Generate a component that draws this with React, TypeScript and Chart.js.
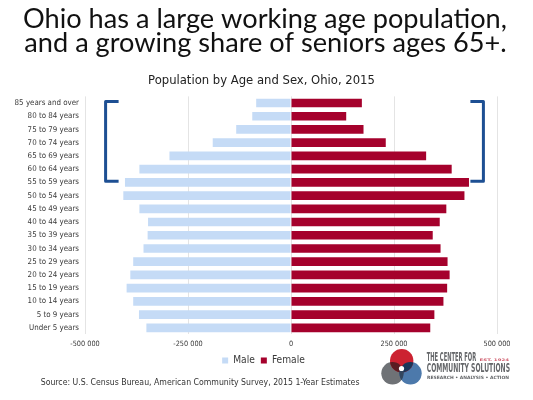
import React, { useEffect, useRef } from "react";
import { Chart, registerables } from "chart.js";

Chart.register(...registerables);

const ageGroups = [
  "85 years and over",
  "80 to 84 years",
  "75 to 79 years",
  "70 to 74 years",
  "65 to 69 years",
  "60 to 64 years",
  "55 to 59 years",
  "50 to 54 years",
  "45 to 49 years",
  "40 to 44 years",
  "35 to 39 years",
  "30 to 34 years",
  "25 to 29 years",
  "20 to 24 years",
  "15 to 19 years",
  "10 to 14 years",
  "5 to 9 years",
  "Under 5 years",
];

const maleValues = [
  -84500, -94000, -133000, -190000, -295000, -368000, -403000, -407000, -368000,
  -347000, -348000, -358000, -383000, -390000, -399000, -383000, -369000, -351000,
];

const femaleValues = [
  172000, 134000, 176000, 230000, 328000, 390000, 432000, 421000, 377000,
  361000, 344000, 363000, 380000, 385000, 379000, 370000, 348000, 338000,
];

const seriesNames = ["Male", "Female"];
const axisMin = -500000;
const axisMax = 500000;
const axisStep = 250000;

const titleLines = [
  "Ohio has a large working age population,",
  "and a growing share of seniors ages 65+.",
];
const subtitleText = "Population by Age and Sex, Ohio, 2015";
const sourceText =
  "Source: U.S. Census Bureau, American Community Survey, 2015 1-Year Estimates";
const logoLines = ["THE CENTER FOR", "COMMUNITY SOLUTIONS", "RESEARCH \u2022 ANALYSIS \u2022 ACTION", "EST. 1924"];

// bracket spans: first and last age group index of the highlighted block
const bracketFrom = 0;
const bracketTo = 6;

const MALE_COLOR = "#c5dbf6";
const FEMALE_COLOR = "#a5012c";
const BRACKET_COLOR = "#1d4f93";
const TEXT_COLOR = "#3a3a3a";
const TITLE_FONT = "Lato";
const SMALL_FONT = "'DejaVu Sans Condensed', 'DejaVu Sans'";

function fmt(v: number): string {
  const s = Math.abs(v)
    .toString()
    .replace(/\B(?=(\d{3})+(?!\d))/g, " ");
  return (v < 0 ? "-" : "") + s;
}

function fitSize(
  ctx: CanvasRenderingContext2D,
  text: string,
  family: string,
  weight: string,
  target: number
): number {
  ctx.font = `${weight} 100px ${family}`;
  const w = ctx.measureText(text).width;
  return (100 * target) / w;
}

export default function App() {
  const ref = useRef<HTMLCanvasElement | null>(null);

  useEffect(() => {
    const canvas = ref.current;
    if (!canvas) return;
    const mctx = document.createElement("canvas").getContext("2d")!;
    const yTickSize = fitSize(mctx, ageGroups[0], SMALL_FONT, "normal", 64.5);
    const xTickSize = fitSize(mctx, fmt(axisMin), SMALL_FONT, "normal", 29.5);
    const legendSize = fitSize(mctx, seriesNames[1], SMALL_FONT, "normal", 33);

    const decor = {
      id: "decor",
      afterLayout(chart: any) {
        // centre the legend under the plotting area like the reference
        const lg = chart.legend;
        if (lg) {
          lg.left += 15;
          lg.right += 15;
        }
      },
      afterDraw(chart: any) {
        const ctx: CanvasRenderingContext2D = chart.ctx;
        const xs = chart.scales.x;
        const ys = chart.scales.y;
        ctx.save();

        // title
        ctx.fillStyle = "#111";
        ctx.textAlign = "center";
        ctx.textBaseline = "alphabetic";
        const tSize = fitSize(ctx, titleLines[0], TITLE_FONT, "normal", 484);
        ctx.font = `normal ${tSize}px ${TITLE_FONT}`;
        ctx.fillText(titleLines[0], 265, 28.3);
        ctx.fillText(titleLines[1], 265.5, 51.8);

        // subtitle
        const sSize = fitSize(ctx, subtitleText, SMALL_FONT, "normal", 227);
        ctx.font = `normal ${sSize}px ${SMALL_FONT}`;
        ctx.fillStyle = "#222";
        ctx.fillText(subtitleText, 261.5, 83.5);

        // source
        const srcSize = fitSize(ctx, sourceText, SMALL_FONT, "normal", 319);
        ctx.font = `normal ${srcSize}px ${SMALL_FONT}`;
        ctx.textAlign = "left";
        ctx.fillStyle = "#333";
        ctx.fillText(sourceText, 40.7, 385);

        // brackets
        const yTop = ys.getPixelForValue(bracketFrom) - 1.5;
        const yBot = ys.getPixelForValue(bracketTo) - 1;
        const xL = xs.getPixelForValue(-450000);
        const xR = xs.getPixelForValue(467000);
        const serif = 13;
        ctx.strokeStyle = BRACKET_COLOR;
        ctx.lineWidth = 3;
        ctx.lineJoin = "round";
        ctx.lineCap = "butt";
        ctx.beginPath();
        ctx.moveTo(xL + serif, yTop);
        ctx.lineTo(xL, yTop);
        ctx.lineTo(xL, yBot);
        ctx.lineTo(xL + serif, yBot);
        ctx.stroke();
        ctx.beginPath();
        ctx.moveTo(xR - serif, yTop);
        ctx.lineTo(xR, yTop);
        ctx.lineTo(xR, yBot);
        ctx.lineTo(xR - serif, yBot);
        ctx.stroke();

        // logo circles
        const red = { x: 401.7, y: 360.8, r: 11.7 };
        const gray = { x: 392.5, y: 373.3, r: 11.2 };
        const blue = { x: 410.5, y: 373.3, r: 11.2 };
        const circ = (c: any) => {
          ctx.beginPath();
          ctx.arc(c.x, c.y, c.r, 0, Math.PI * 2);
        };
        ctx.fillStyle = "#6f7276";
        circ(gray);
        ctx.fill();
        ctx.fillStyle = "#4c79ab";
        circ(blue);
        ctx.fill();
        ctx.fillStyle = "#cc2231";
        circ(red);
        ctx.fill();
        ctx.save();
        circ(red);
        ctx.clip();
        ctx.fillStyle = "#5a1c22";
        circ(gray);
        ctx.fill();
        ctx.fillStyle = "#1b3558";
        circ(blue);
        ctx.fill();
        ctx.restore();
        ctx.save();
        circ(gray);
        ctx.clip();
        ctx.fillStyle = "#33465e";
        circ(blue);
        ctx.fill();
        ctx.restore();
        ctx.fillStyle = "#ffffff";
        ctx.beginPath();
        ctx.arc(401.5, 368.5, 2.6, 0, Math.PI * 2);
        ctx.fill();

        // logo text
        const drawFit = (
          text: string,
          x: number,
          baseline: number,
          w: number,
          size: number,
          color: string,
          weight: string
        ) => {
          ctx.save();
          ctx.font = `${weight} ${size}px 'DejaVu Sans Condensed', 'DejaVu Sans'`;
          const mw = ctx.measureText(text).width;
          ctx.translate(x, baseline);
          ctx.scale(w / mw, 1);
          ctx.fillStyle = color;
          ctx.textAlign = "left";
          ctx.textBaseline = "alphabetic";
          ctx.fillText(text, 0, 0);
          ctx.restore();
        };
        drawFit(logoLines[0], 426.7, 361.2, 49.5, 11.4, "#65676a", "bold");
        drawFit(logoLines[1], 426.7, 371.8, 83.3, 12.3, "#65676a", "bold");
        drawFit(logoLines[2], 427, 378.8, 82, 4.4, "#65676a", "bold");
        drawFit(logoLines[3], 479.5, 360.5, 29.5, 3.4, "#d06070", "bold");

        ctx.restore();
      },
    };

    const chart = new Chart(canvas, {
      type: "bar",
      data: {
        labels: ageGroups,
        datasets: [
          {
            label: seriesNames[0],
            data: maleValues,
            backgroundColor: MALE_COLOR,
            borderWidth: 0,
            categoryPercentage: 0.82,
            barPercentage: 0.8,
          },
          {
            label: seriesNames[1],
            data: femaleValues,
            backgroundColor: FEMALE_COLOR,
            borderWidth: 0,
            categoryPercentage: 0.82,
            barPercentage: 0.8,
          },
        ],
      },
      options: {
        indexAxis: "y",
        responsive: false,
        animation: false,
        devicePixelRatio: 1,
        layout: {
          padding: { top: 96.4, left: 0, right: 36, bottom: 24.5 },
        },
        plugins: {
          title: { display: false },
          tooltip: { enabled: false },
          legend: {
            display: true,
            position: "bottom",
            labels: {
              boxWidth: 6,
              boxHeight: 6,
              padding: 6,
              color: TEXT_COLOR,
              font: { family: SMALL_FONT, size: legendSize },
            },
          },
        },
        scales: {
          x: {
            stacked: true,
            min: axisMin,
            max: axisMax,
            afterFit: (s: any) => {
              s.height = 14.9;
            },
            ticks: {
              stepSize: axisStep,
              padding: 5,
              color: TEXT_COLOR,
              font: { family: SMALL_FONT, size: xTickSize },
              callback: (v: any) => fmt(Number(v)),
            },
            grid: { color: "#e4e4e4", drawTicks: false, lineWidth: 1 },
            border: { display: false },
          },
          y: {
            stacked: true,
            afterFit: (s: any) => {
              s.width = 85;
            },
            ticks: {
              padding: 6,
              color: TEXT_COLOR,
              font: { family: SMALL_FONT, size: yTickSize },
            },
            grid: { display: false, drawTicks: false },
            border: { display: false },
          },
        },
      },
      plugins: [decor],
    } as any);

    return () => chart.destroy();
  }, []);

  return (
    <div style={{ position: "absolute", left: 0, top: 0, width: 533, height: 400, background: "#fff" }}>
      <canvas ref={ref} width={533} height={400} />
    </div>
  );
}
